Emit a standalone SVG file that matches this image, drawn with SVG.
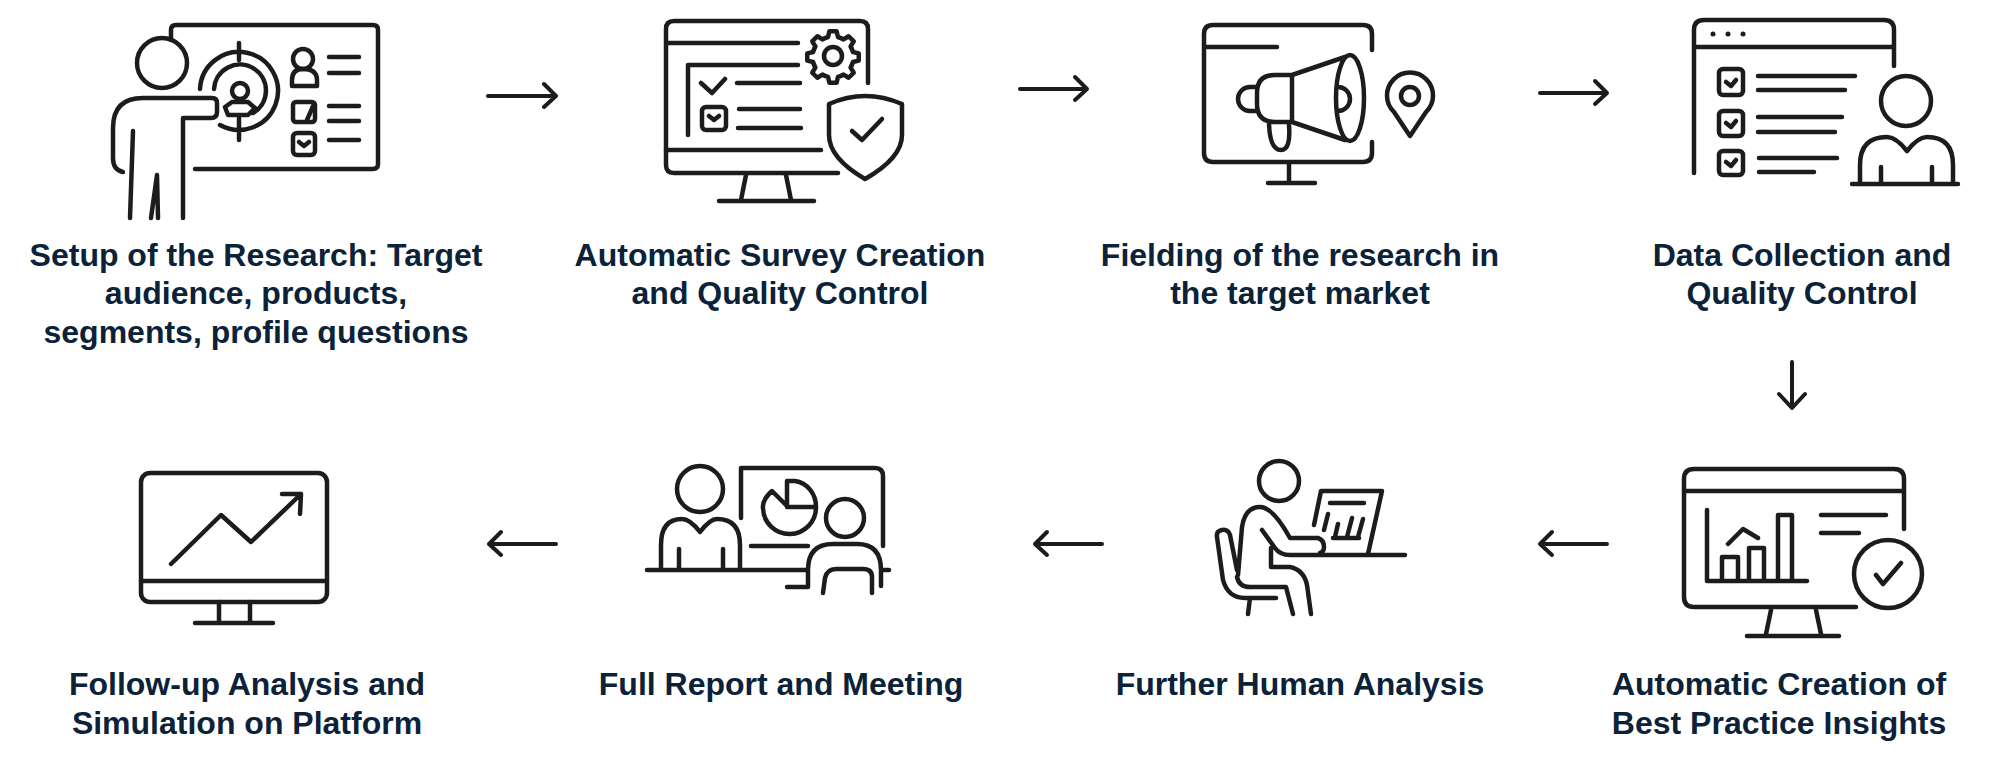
<svg xmlns="http://www.w3.org/2000/svg" width="2000" height="778" viewBox="0 0 2000 778">
<style>
.i{fill:none;stroke:#1c1c1c;stroke-width:4.5;stroke-linecap:round;stroke-linejoin:round}
.a{fill:none;stroke:#1c1c1c;stroke-width:4;stroke-linecap:round;stroke-linejoin:round}
text{font-family:"Liberation Sans",Arial,sans-serif;font-weight:700;font-size:32px;fill:#0b2239;text-anchor:middle}
</style>
<defs>
<path id="tooth" class="i" d="M-7.85 -18.94L-4.96 -19.89L-3.62 -25.75H3.62L4.96 -19.89L7.85 -18.94"/>
</defs>
<rect width="2000" height="778" fill="#fff"/>
<g id="connectors">
<path class="a" d="M488 96H556M544 84L556 96L544 107"/>
<path class="a" d="M1020 89H1087M1075 77L1087 89L1075 100"/>
<path class="a" d="M1540 93H1607M1595 81L1607 93L1595 104"/>
<path class="a" d="M1792 362V408M1779 394L1792 408L1805 394"/>
<path class="a" d="M1607 544H1540M1552 532L1540 544L1552 555"/>
<path class="a" d="M1102 544H1035M1047 532L1035 544L1047 555"/>
<path class="a" d="M556 544H489M501 532L489 544L501 555"/>
</g>
<g id="node1">
<path class="i" d="M171 40V30Q171 25 176 25H373Q378 25 378 30V164Q378 169 373 169H195"/>
<circle class="i" cx="162" cy="63" r="25"/>
<path class="i" d="M123 172Q113 170 113 158V128Q113 98 143 98H212Q217 98 217 103V112Q217 118 211 118H183V218M133 131L130 218M157 175L151 218M157 175L158 218"/>
<path class="i" d="M200 89A39 39 0 1 1 220 125M214 89A26 26 0 1 1 253 113M239 43V60M239 118V140"/>
<circle class="i" cx="240" cy="91" r="8"/>
<path class="i" d="M225 107L232 102H248L255 108L248 115H228Z"/>
<circle class="i" cx="303" cy="59" r="10"/>
<path class="i" d="M292 86V80Q292 69 303 69Q317 69 317 80V86Z"/>
<path class="i" d="M329 57H359M329 73H359M329 106H359M329 121H359M329 140H359"/>
<rect class="i" x="293" y="102" width="22" height="20" rx="3"/>
<path class="i" d="M314 104L307 120"/>
<rect class="i" x="293" y="133" width="22" height="22" rx="4"/>
<path class="i" d="M299 142L304 146L309 142"/>
</g>
<g id="node2">
<path class="i" d="M868 83V29Q868 21 860 21H674Q666 21 666 29V165Q666 173 674 173H838M666 43H798M688 135V65H798"/>
<path class="i" d="M701 83L712 93L725 79M737 83H800M739 109H800M738 128H801"/>
<rect class="i" x="702" y="107" width="24" height="23" rx="4"/>
<path class="i" d="M709 116L714 120L719 116M666 150H821M746 175L741 200M786 175L791 200M719 201H814"/>
<circle class="i" cx="833" cy="56" r="9"/>
<use href="#tooth" transform="translate(833 57)"/>
<use href="#tooth" transform="translate(833 57) rotate(45)"/>
<use href="#tooth" transform="translate(833 57) rotate(90)"/>
<use href="#tooth" transform="translate(833 57) rotate(135)"/>
<use href="#tooth" transform="translate(833 57) rotate(180)"/>
<use href="#tooth" transform="translate(833 57) rotate(225)"/>
<use href="#tooth" transform="translate(833 57) rotate(270)"/>
<use href="#tooth" transform="translate(833 57) rotate(315)"/>
<path class="i" d="M829 104Q865 88 902 104V135Q902 158 865 179Q829 158 829 135Z"/>
<path class="i" d="M852 131L862 140L882 119"/>
</g>
<g id="node3">
<path class="i" d="M1372 50V34Q1372 25 1363 25H1213Q1204 25 1204 34V153Q1204 162 1213 162H1363Q1372 162 1372 153V142M1204 47H1277M1289 163V183M1268 183H1315"/>
<path class="i" d="M1257 87H1250A12 12 0 0 0 1250 111H1257"/>
<path class="i" d="M1292 75H1275Q1257 75 1257 93V104Q1257 122 1275 122H1292ZM1292 75L1345 57M1292 122L1345 140"/>
<ellipse class="i" cx="1350" cy="98" rx="14" ry="43"/>
<path class="i" d="M1338 87A12 12 0 0 1 1338 111M1269 124Q1270 150 1281 150Q1291 150 1289 125"/>
<path class="i" d="M1410 136L1394 112A23 23 0 1 1 1426 112Z"/>
<circle class="i" cx="1410" cy="96" r="9"/>
</g>
<g id="node4">
<path class="i" d="M1694 173V30Q1694 20 1704 20H1884Q1894 20 1894 30V66M1694 47H1894"/>
<circle cx="1713" cy="34" r="2.5" fill="#1c1c1c"/><circle cx="1728" cy="34" r="2.5" fill="#1c1c1c"/><circle cx="1743" cy="34" r="2.5" fill="#1c1c1c"/>
<rect class="i" x="1719" y="69" width="24" height="26" rx="4"/><rect class="i" x="1719" y="111" width="24" height="25" rx="4"/><rect class="i" x="1719" y="151" width="24" height="24" rx="4"/>
<path class="i" d="M1726 82L1731 86L1736 80M1726 123L1731 127L1736 121M1726 162L1731 166L1736 160"/>
<path class="i" d="M1758 76H1855M1758 90H1845M1758 117H1842M1758 132H1835M1759 158H1837M1759 172H1814"/>
<circle class="i" cx="1906" cy="101" r="25"/>
<path class="i" d="M1860 183V165Q1860 137 1887 137Q1896 137 1907 151Q1918 137 1927 137Q1953 137 1953 165V183M1852 184H1958M1881 167V183M1932 167V183"/>
</g>
<g id="node5">
<path class="i" d="M1904 529V479Q1904 469 1894 469H1694Q1684 469 1684 479V597Q1684 607 1694 607H1856M1684 491H1904"/>
<path class="i" d="M1707 510V581H1807M1722 581V557H1738V581M1749 581V548H1764V581M1778 581V515H1792V581M1728 544L1743 529L1758 538M1821 515H1886M1821 533H1859"/>
<circle class="i" cx="1888" cy="574" r="34"/>
<path class="i" d="M1876 575L1883 584L1901 563M1771 610L1766 634M1816 610L1821 634M1747 636H1839"/>
</g>
<g id="node6">
<circle class="i" cx="1279" cy="481" r="20"/>
<path class="i" d="M1238 575L1242 527Q1245 507 1260 507Q1273 507 1290 538H1318Q1324 540 1324 547Q1324 552 1320 553M1262 530L1275 548Q1280 555 1290 555H1405M1271 548V567H1290Q1304 570 1307 585L1311 614M1237 577Q1239 587 1250 587H1286L1293 614M1237 570L1230 535Q1228 529 1222 530Q1216 531 1217 537L1223 580Q1228 598 1245 598H1276M1250 598L1248 614"/>
<path class="i" d="M1314 525L1321 491H1382L1368 554M1330 503H1364M1328 514L1324 530M1338 524L1335 537M1352 518L1347 537M1363 519L1358 537M1333 538H1359"/>
</g>
<g id="node7">
<circle class="i" cx="700" cy="489" r="23"/>
<path class="i" d="M661 570V545Q661 519 682 519Q690 519 700 532Q710 519 717 519Q740 519 740 545V570M679 549V570M723 549V570M647 570H807M882 570H889"/>
<path class="i" d="M741 518V468H875Q883 468 883 476V546M751 546H808"/>
<path class="i" d="M772 491Q762 500 763 508A26.5 26.5 0 0 0 816 507H788ZM787 507V481H795A24 26 0 0 1 816 507"/>
<circle class="i" cx="845" cy="518" r="19"/>
<path class="i" d="M787 587H808V570Q808 544 833 544H857Q881 544 881 570V586M823 593L825 578Q827 569 836 569H863Q872 569 872 577V593"/>
</g>
<g id="node8">
<rect class="i" x="141" y="473" width="186" height="129" rx="9"/>
<path class="i" d="M141 581H327M219 602V623M250 602V623M195 623H273M171 564L221 515L251 542L301 494M282 494H301L300 514"/>
</g>
<g id="labels">
<text x="256" y="266">Setup of the Research: Target</text><text x="256" y="304">audience, products,</text><text x="256" y="343">segments, profile questions</text>
<text x="780" y="266">Automatic Survey Creation</text><text x="780" y="304">and Quality Control</text>
<text x="1300" y="266">Fielding of the research in</text><text x="1300" y="304">the target market</text>
<text x="1802" y="266">Data Collection and</text><text x="1802" y="304">Quality Control</text>
<text x="1779" y="695">Automatic Creation of</text><text x="1779" y="734">Best Practice Insights</text>
<text x="1300" y="695">Further Human Analysis</text>
<text x="781" y="695">Full Report and Meeting</text>
<text x="247" y="695">Follow-up Analysis and</text><text x="247" y="734">Simulation on Platform</text>
</g>
</svg>
